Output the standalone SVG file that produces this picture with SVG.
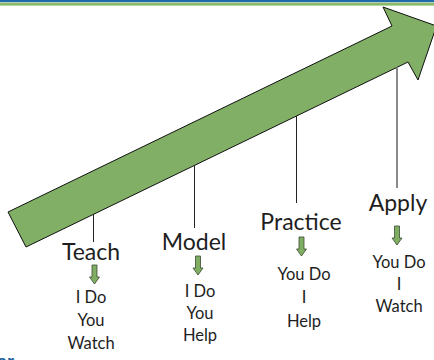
<svg xmlns="http://www.w3.org/2000/svg" width="434" height="360" viewBox="0 0 434 360">
  <style>
    .title { font-family: Lato, "Liberation Sans", sans-serif; font-size: 23px; fill: #1e1e1e; text-anchor: middle; }
    .step { font-family: Lato, "Liberation Sans", sans-serif; font-size: 16.5px; fill: #1e1e1e; text-anchor: middle; }
    .stem { stroke: #222; stroke-width: 1; fill: none; }
    .down { fill: #7fae62; stroke: #3a4a30; stroke-width: 0.8; }
  </style>
  <defs>
    <!-- small downward block arrow, origin at top centre -->
    <path id="downArrow" class="down" d="M-2.5,0 H2.5 V12 H5 L0,19 L-5,12 H-2.5 Z"/>
  </defs>

  <!-- header bands -->
  <rect x="0" y="0" width="434" height="2.2" fill="#1f6bab"/>
  <rect x="0" y="2.6" width="434" height="3" fill="#8cb86c"/>

  <!-- main progression arrow -->
  <g id="mainArrow">
    <polygon points="8,212 392,26 383,7 436.5,26 418,80 408,62 26,247" fill="#80af65" stroke="#111" stroke-width="1" stroke-linejoin="miter"/>
  </g>

  <!-- connectors from the arrow down to each stage -->
  <g id="connectors">
    <line class="stem" x1="93.5" y1="214" x2="93.5" y2="242"/>
    <line class="stem" x1="194.5" y1="166" x2="194.5" y2="228"/>
    <line class="stem" x1="296.5" y1="116" x2="296.5" y2="203"/>
    <line x1="397" y1="67.5" x2="397" y2="188" stroke="#8a8a8a" stroke-width="2"/>
  </g>

  <g id="teach">
    <text class="title" x="91" y="260">Teach</text>
    <use href="#downArrow" x="94.5" y="265"/>
    <text class="step" x="91" y="303">I Do</text>
    <text class="step" x="91" y="326">You</text>
    <text class="step" x="91" y="348.5">Watch</text>
  </g>

  <g id="model">
    <text class="title" x="194" y="250">Model</text>
    <use href="#downArrow" x="198" y="256"/>
    <text class="step" x="200" y="297">I Do</text>
    <text class="step" x="200" y="319">You</text>
    <text class="step" x="200" y="341">Help</text>
  </g>

  <g id="practice">
    <text class="title" x="301" y="230">Practice</text>
    <use href="#downArrow" x="301.5" y="237"/>
    <text class="step" x="304" y="280">You Do</text>
    <text class="step" x="304" y="303">I</text>
    <text class="step" x="304" y="326.5">Help</text>
  </g>

  <g id="apply">
    <text class="title" x="398" y="210.5">Apply</text>
    <use href="#downArrow" x="397" y="226"/>
    <text class="step" x="399" y="268">You Do</text>
    <text class="step" x="399" y="290">I</text>
    <text class="step" x="399" y="311.5">Watch</text>
  </g>

  <!-- footer caption, mostly below the frame -->
  <text x="-3" y="368" font-family="'Liberation Sans', sans-serif" font-weight="bold" font-size="18" fill="#1f5f9f">er</text>
</svg>
